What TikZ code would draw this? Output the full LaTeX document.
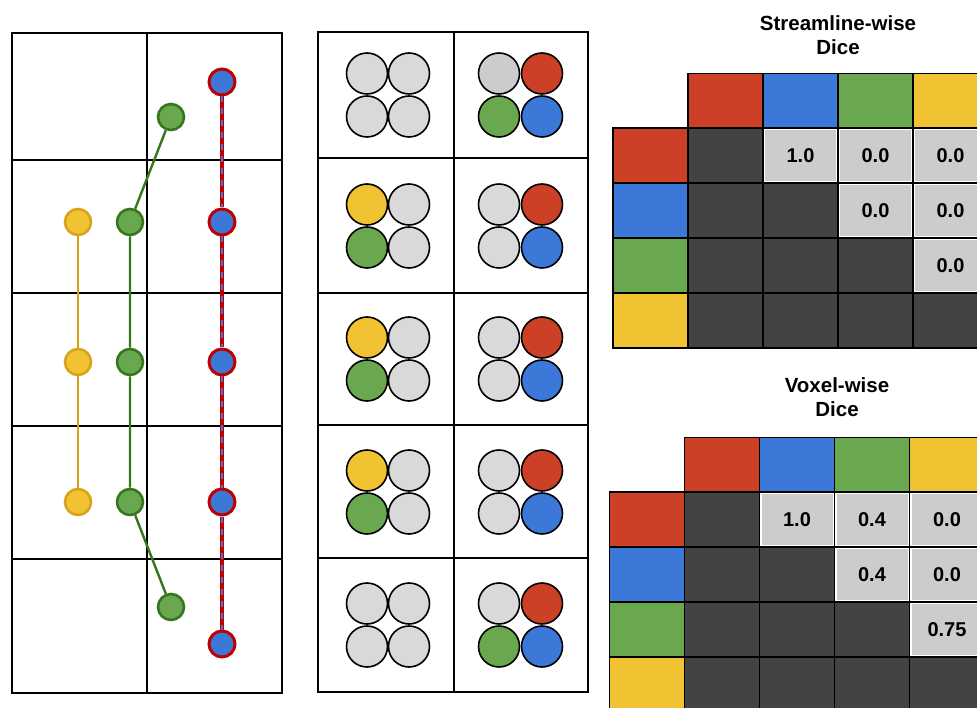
\documentclass[tikz,border=0pt]{standalone}
\usepackage{fontspec}
\setmainfont{Liberation Sans}
\usetikzlibrary{positioning}
\definecolor{sred}{HTML}{CC4125}
\definecolor{sblue}{HTML}{3C78D8}
\definecolor{sgreen}{HTML}{6AA84F}
\definecolor{syellow}{HTML}{F1C232}
\definecolor{dgreen}{HTML}{38761D}
\definecolor{dyellow}{HTML}{D9A21B}
\definecolor{rring}{HTML}{C00000}
\definecolor{cg}{HTML}{D9D9D9}
\definecolor{cgd}{HTML}{CCCCCC}
\definecolor{cdark}{HTML}{434343}
\definecolor{clight}{HTML}{CCCCCC}
\tikzstyle{grid} = [draw=black, line width=1.4pt]
\tikzstyle{pt} = [circle, inner sep=0pt, minimum size=26pt, line width=2.6pt]
\tikzstyle{ball} = [circle, draw=black, inner sep=0pt, minimum size=41pt, line width=1.6pt]
\tikzstyle{cell} = [rectangle, draw=black, line width=1.2pt, inner sep=0pt, minimum width=75pt, minimum height=55pt]
\tikzstyle{val} = [cell, fill=white, font=\bfseries\fontsize{20}{24}\selectfont,
  path picture={\fill[clight] ([shift={(2pt,-2pt)}]path picture bounding box.north west) rectangle ([shift={(-2pt,2pt)}]path picture bounding box.south east);}]
\tikzstyle{title} = [align=center, font=\bfseries\fontsize{20.5}{24}\selectfont]

\begin{document}
\begin{tikzpicture}[x=1pt, y=-1pt]
\useasboundingbox (0,0) rectangle (977,708);
\fill[white] (0,0) rectangle (977,708);
\clip (0,0) rectangle (977,708);

% streamline grid
\draw[grid] (12,33) rectangle (282,693);
\draw[grid] (147,33) -- (147,693);
\foreach \y in {160,293,426,559}
  \draw[grid] (12,\y) -- (282,\y);

% yellow streamline
\node (y1) [pt, fill=syellow, draw=dyellow] at (78,222) {};
\node (y2) [pt, fill=syellow, draw=dyellow] at (78,362) {};
\node (y3) [pt, fill=syellow, draw=dyellow] at (78,502) {};
\draw[dyellow, line width=2.4pt] (y1) -- (y2) -- (y3);

% green streamline
\node (g1) [pt, fill=sgreen, draw=dgreen] at (171,117) {};
\node (g2) [pt, fill=sgreen, draw=dgreen] at (130,222) {};
\node (g3) [pt, fill=sgreen, draw=dgreen] at (130,362) {};
\node (g4) [pt, fill=sgreen, draw=dgreen] at (130,502) {};
\node (g5) [pt, fill=sgreen, draw=dgreen] at (171,607) {};
\draw[dgreen, line width=2.4pt] (g1) -- (g2) -- (g3) -- (g4) -- (g5);

% red/blue streamline
\node (b1) [pt, fill=sblue, draw=rring, line width=3pt] at (222,82) {};
\node (b2) [pt, fill=sblue, draw=rring, line width=3pt] at (222,222) {};
\node (b3) [pt, fill=sblue, draw=rring, line width=3pt] at (222,362) {};
\node (b4) [pt, fill=sblue, draw=rring, line width=3pt] at (222,502) {};
\node (b5) [pt, fill=sblue, draw=rring, line width=3pt] at (222,644) {};
\draw[rring, line width=4.5pt] (b1) -- (b2) -- (b3) -- (b4) -- (b5);
\draw[sblue, line width=2.2pt, dash pattern=on 6pt off 6pt] (b1) -- (b2) -- (b3) -- (b4) -- (b5);

% voxel grid
\draw[grid] (318,32) rectangle (588,692);
\draw[grid] (454,32) -- (454,692);
\foreach \y in {158,293,425,558}
  \draw[grid] (318,\y) -- (588,\y);
\foreach \yc/\la/\lb/\lc/\ld/\ra/\rb/\rc/\rd [count=\i] in {
    95/cg/cg/cg/cg/cgd/sred/sgreen/sblue,
    226/syellow/cg/sgreen/cg/cg/sred/cg/sblue,
    359/syellow/cg/sgreen/cg/cg/sred/cg/sblue,
    492/syellow/cg/sgreen/cg/cg/sred/cg/sblue,
    625/cg/cg/cg/cg/cg/sred/sgreen/sblue}
{
  \node (l\i a) [ball, fill=\la] at (367,\yc-21.5) {};
  \node (l\i b) [ball, fill=\lb] at (409,\yc-21.5) {};
  \node (l\i c) [ball, fill=\lc] at (367,\yc+21.5) {};
  \node (l\i d) [ball, fill=\ld] at (409,\yc+21.5) {};
  \node (r\i a) [ball, fill=\ra] at (499,\yc-21.5) {};
  \node (r\i b) [ball, fill=\rb] at (542,\yc-21.5) {};
  \node (r\i c) [ball, fill=\rc] at (499,\yc+21.5) {};
  \node (r\i d) [ball, fill=\rd] at (542,\yc+21.5) {};
}

% streamline-wise dice
\node (stitle) [title] at (838,35) {Streamline-wise\\Dice};
\foreach \c [count=\k] in {sred,sblue,sgreen,syellow} {
  \node (sh\k) [cell, fill=\c] at (725.5+75*\k-75,101) {};
  \node (sl\k) [cell, fill=\c] at (650.5,155.5+55*\k-55) {};
  \foreach \r in {1,...,4}
    \node (s\r\k) [cell, fill=cdark] at (725.5+75*\k-75,155.5+55*\r-55) {};
}
\node (s12v) [val] at (800.5,155.5) {1.0};
\node (s13v) [val] at (875.5,155.5) {0.0};
\node (s14v) [val] at (950.5,155.5) {0.0};
\node (s23v) [val] at (875.5,210.5) {0.0};
\node (s24v) [val] at (950.5,210.5) {0.0};
\node (s34v) [val] at (950.5,265.5) {0.0};

% voxel-wise dice
\node (vtitle) [title] at (837,397) {Voxel-wise\\Dice};
\foreach \c [count=\k] in {sred,sblue,sgreen,syellow} {
  \node (vh\k) [cell, fill=\c] at (722+75*\k-75,465) {};
  \node (vl\k) [cell, fill=\c] at (647,519.5+55*\k-55) {};
  \foreach \r in {1,...,4}
    \node (v\r\k) [cell, fill=cdark] at (722+75*\k-75,519.5+55*\r-55) {};
}
\node (v12v) [val] at (797,519.5) {1.0};
\node (v13v) [val] at (872,519.5) {0.4};
\node (v14v) [val] at (947,519.5) {0.0};
\node (v23v) [val] at (872,574.5) {0.4};
\node (v24v) [val] at (947,574.5) {0.0};
\node (v34v) [val] at (947,629.5) {0.75};
\end{tikzpicture}
\end{document}
